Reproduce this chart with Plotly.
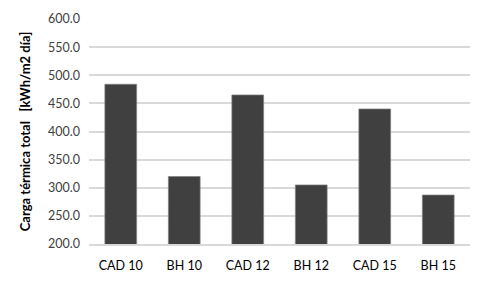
import plotly.graph_objects as go

categories = ["CAD 10", "BH 10", "CAD 12", "BH 12", "CAD 15", "BH 15"]
values = [484, 320, 465, 305, 440, 287]
y_title = "Carga térmica total   [kWh/m2 día]"

fig = go.Figure(go.Bar(
    x=categories, y=values,
    marker=dict(color="#404040", line=dict(color="#7f7f7f", width=0.7)),
))
fig.update_layout(
    width=489, height=292,
    margin=dict(l=89, r=19, t=19, b=48, pad=0),
    paper_bgcolor="white", plot_bgcolor="white",
    bargap=0.5,
    showlegend=False,
    font=dict(family="Lato, Open Sans, sans-serif", size=12, color="#404040"),
)
fig.update_yaxes(
    range=[200, 600], dtick=50, tickformat=".1f",
    showgrid=True, gridcolor="#d9d9d9", gridwidth=1.5,
    zeroline=False, showline=False, ticks="", ticklen=0,
    automargin=False,
    title=dict(text=y_title, font=dict(size=13, color="#000000", family="Lato, Open Sans, sans-serif", weight="bold"), standoff=14),
    tickfont=dict(size=12.5, color="#404040"),
    ticklabelstandoff=8,
)
fig.update_xaxes(
    showline=True, linecolor="#d9d9d9", linewidth=1.5,
    showgrid=False, ticks="",
    automargin=False,
    tickfont=dict(size=12.5, color="#000000"),
    ticklabelstandoff=9,
)
fig.write_html("out.html", config={"displayModeBar": False},
               post_script="document.body.style.margin='0';document.body.style.padding='0';")
